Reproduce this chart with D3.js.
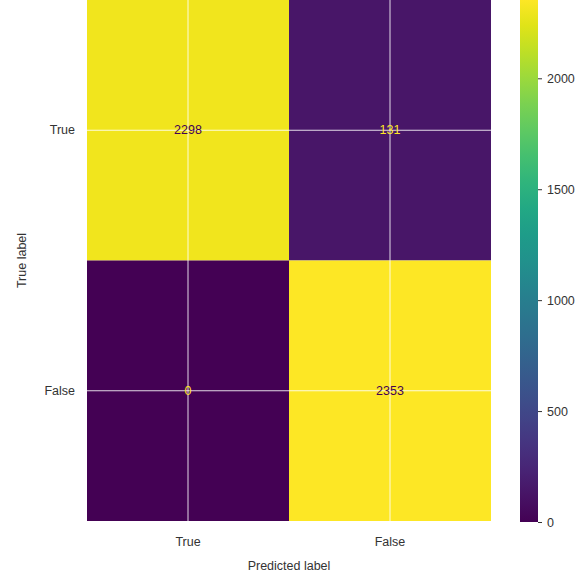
<!DOCTYPE html>
<html>
<head>
<meta charset="utf-8">
<script src="https://d3js.org/d3.v7.min.js"></script>
<style>
  body { margin: 0; background: #fff; }
  text { font-family: "Liberation Sans", Arial, sans-serif; }
</style>
</head>
<body>
<script>
// confusion matrix data
var trueLabels = ["True", "False"];
var predLabels = ["True", "False"];
var matrix = [
  [2298, 131],
  [0, 2353]
];
var colorTicks = [0, 500, 1000, 1500, 2000];

var width = 586, height = 576;

var plot = { left: 87, top: 0, right: 491, bottom: 521 };
var bar = { left: 520, width: 18, top: 0, bottom: 522 };

var svg = d3.select("body").append("svg")
  .attr("width", width)
  .attr("height", height);

var x = d3.scaleBand().domain(predLabels).range([plot.left, plot.right]);
var y = d3.scaleBand().domain(trueLabels).range([plot.top, plot.bottom]);

var allVals = matrix.flat();
var vmin = d3.min(allVals), vmax = d3.max(allVals);
var color = d3.scaleSequential(d3.interpolateViridis).domain([vmin, vmax]);

var cells = [];
matrix.forEach(function (row, i) {
  row.forEach(function (v, j) {
    cells.push({ t: trueLabels[i], p: predLabels[j], v: v });
  });
});

svg.append("g").selectAll("rect")
  .data(cells)
  .enter().append("rect")
  .attr("x", function (d) { return x(d.p); })
  .attr("y", function (d) { return y(d.t); })
  .attr("width", x.bandwidth())
  .attr("height", y.bandwidth())
  .attr("fill", function (d) { return color(d.v); });

// white grid lines through tick centres
var grid = svg.append("g").attr("stroke", "#fff").attr("stroke-opacity", 0.85).attr("stroke-width", 1);
predLabels.forEach(function (p) {
  var cx = x(p) + x.bandwidth() / 2;
  grid.append("line").attr("x1", cx).attr("x2", cx).attr("y1", plot.top).attr("y2", plot.bottom);
});
trueLabels.forEach(function (t) {
  var cy = y(t) + y.bandwidth() / 2;
  grid.append("line").attr("x1", plot.left).attr("x2", plot.right).attr("y1", cy).attr("y2", cy);
});

// cell values
var thresh = (vmax + vmin) / 2;
svg.append("g").selectAll("text")
  .data(cells)
  .enter().append("text")
  .attr("x", function (d) { return x(d.p) + x.bandwidth() / 2; })
  .attr("y", function (d) { return y(d.t) + y.bandwidth() / 2; })
  .attr("text-anchor", "middle")
  .attr("dominant-baseline", "central")
  .attr("font-size", 12.5)
  .attr("fill", function (d) { return d.v < thresh ? color(vmax) : color(vmin); })
  .text(function (d) { return d.v; });

// axes
var xAxis = svg.append("g")
  .attr("transform", "translate(0," + plot.bottom + ")")
  .call(d3.axisBottom(x).tickSize(0).tickPadding(16));
var yAxis = svg.append("g")
  .attr("transform", "translate(" + plot.left + ",0)")
  .call(d3.axisLeft(y).tickSize(0).tickPadding(12));
[xAxis, yAxis].forEach(function (a) {
  a.select(".domain").remove();
  a.selectAll("text").attr("font-size", 12.5).attr("fill", "#333")
    .style("font-family", "'Liberation Sans', Arial, sans-serif");
});

svg.append("text")
  .attr("x", (plot.left + plot.right) / 2)
  .attr("y", 570)
  .attr("text-anchor", "middle")
  .attr("font-size", 12.5)
  .attr("fill", "#333")
  .text("Predicted label");

svg.append("text")
  .attr("transform", "translate(26," + ((plot.top + plot.bottom) / 2) + ") rotate(-90)")
  .attr("text-anchor", "middle")
  .attr("font-size", 12.5)
  .attr("fill", "#333")
  .text("True label");

// colorbar
var defs = svg.append("defs");
var grad = defs.append("linearGradient")
  .attr("id", "cbar")
  .attr("x1", "0%").attr("x2", "0%").attr("y1", "100%").attr("y2", "0%");
d3.range(0, 1.0001, 0.05).forEach(function (t) {
  grad.append("stop")
    .attr("offset", (t * 100) + "%")
    .attr("stop-color", d3.interpolateViridis(t));
});

var cy = d3.scaleLinear().domain([vmin, vmax]).range([bar.bottom, bar.top]);

svg.append("rect")
  .attr("x", bar.left)
  .attr("y", bar.top)
  .attr("width", bar.width)
  .attr("height", bar.bottom - bar.top)
  .attr("fill", "url(#cbar)");

var cAxis = svg.append("g")
  .attr("transform", "translate(" + (bar.left + bar.width) + ",0)")
  .call(d3.axisRight(cy).tickValues(colorTicks).tickFormat(d3.format("d")).tickSize(4).tickPadding(5));
cAxis.select(".domain").remove();
cAxis.selectAll("line").attr("stroke", "#333");
cAxis.selectAll("text").attr("font-size", 12.5).attr("fill", "#333")
  .style("font-family", "'Liberation Sans', Arial, sans-serif");
</script>
</body>
</html>
